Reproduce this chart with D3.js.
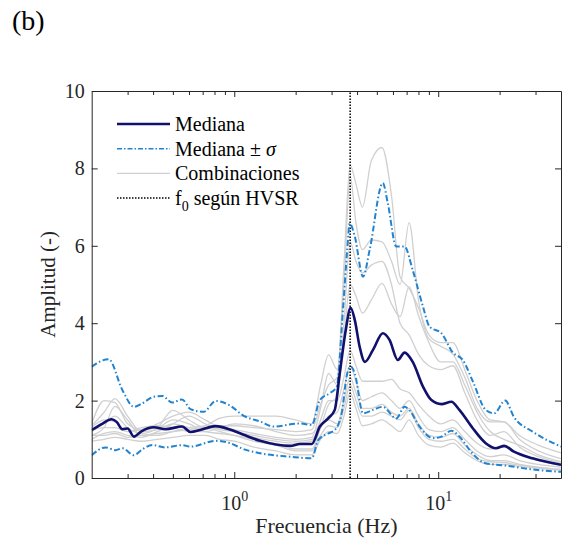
<!DOCTYPE html>
<html>
<head>
<meta charset="utf-8">
<script src="https://cdn.jsdelivr.net/npm/d3@7"></script>
<style>
  body { margin: 0; background: #fff; }
  svg { display: block; font-family: "Liberation Serif", "Times New Roman", serif; }
  .axis path, .axis line { stroke: #262626; stroke-width: 1; }
</style>
</head>
<body>
<svg id="chart" width="566" height="543"></svg>
<script>
// median curve
var medianFreq = [0.2, 0.225, 0.25, 0.265, 0.283, 0.3, 0.322, 0.349, 0.404, 0.46, 0.555, 0.61, 0.68, 0.81, 0.97, 1.12, 1.34, 1.88, 2.1, 2.4, 2.63, 2.89, 3.11, 3.29, 3.52, 3.72, 3.9, 4.12, 4.37, 4.79, 5.35, 5.77, 6.34, 6.84, 7.5, 8.42, 9.23, 10.37, 11.6, 12.7, 14.8, 17.1, 19.2, 21.1, 23.5, 29, 40]
var medianAmp = [1.24, 1.40, 1.52, 1.45, 1.26, 1.28, 1.07, 1.20, 1.31, 1.26, 1.33, 1.19, 1.24, 1.34, 1.24, 1.11, 0.96, 0.83, 0.88, 0.88, 1.33, 1.54, 1.76, 2.7, 3.82, 4.40, 4.08, 3.39, 3.0, 3.31, 3.74, 3.57, 3.05, 3.24, 3.0, 2.36, 2.02, 1.91, 1.97, 1.76, 1.28, 0.90, 0.77, 0.83, 0.68, 0.51, 0.34]

// median + sigma
var upperFreq = [0.2, 0.242, 0.283, 0.322, 0.354, 0.404, 0.444, 0.496, 0.555, 0.61, 0.708, 0.81, 0.94, 1.12, 1.34, 1.56, 2.1, 2.4, 2.63, 2.94, 3.18, 3.42, 3.58, 3.68, 3.9, 4.28, 4.61, 5.35, 5.66, 6.23, 6.84, 7.5, 8.42, 9.07, 10.37, 11.8, 13.2, 14.8, 17.1, 18.8, 21.3, 23.5, 29, 40]
var upperAmp = [2.88, 3.07, 2.27, 1.84, 1.93, 2.10, 2.12, 1.95, 2.03, 1.78, 1.71, 1.99, 1.89, 1.60, 1.46, 1.33, 1.41, 1.37, 2.02, 2.19, 2.36, 4.43, 5.89, 6.58, 6.24, 5.2, 5.89, 7.62, 7.10, 5.98, 5.98, 5.37, 4.43, 3.91, 3.74, 3.24, 3.05, 2.49, 1.76, 1.67, 2.0, 1.58, 1.20, 0.81]

// median - sigma
var lowerFreq = [0.2, 0.234, 0.262, 0.283, 0.322, 0.354, 0.397, 0.46, 0.555, 0.61, 0.81, 0.94, 1.12, 1.34, 1.88, 2.4, 2.58, 2.89, 3.11, 3.36, 3.58, 3.73, 3.9, 4.28, 4.79, 5.35, 6.23, 6.84, 7.2, 8.1, 9.4, 10.37, 11.6, 12.7, 14.8, 17.1, 21.5, 29, 40]
var lowerAmp = [0.59, 0.79, 0.72, 0.77, 0.59, 0.74, 0.85, 0.79, 0.85, 0.81, 0.96, 0.91, 0.74, 0.64, 0.55, 0.51, 0.98, 1.15, 1.24, 1.67, 2.7, 2.88, 2.7, 1.67, 1.76, 1.84, 1.54, 1.84, 1.76, 1.33, 1.03, 1.07, 1.22, 1.07, 0.62, 0.38, 0.32, 0.22, 0.16]

// individual combinations (grey)
var comboFreq = [0.2, 0.23, 0.26, 0.3, 0.35, 0.42, 0.5, 0.6, 0.72, 0.85, 1.0, 1.25, 1.6, 2.0, 2.4, 2.65, 2.9, 3.2, 3.45, 3.7, 3.95, 4.25, 4.7, 5.3, 5.9, 6.5, 7.2, 8.0, 9.0, 10.3, 11.8, 13.5, 15.5, 18, 21, 25, 31, 40]
var combo1 = [1.35, 1.7, 2.05, 1.6, 1.2, 1.25, 1.4, 1.3, 1.25, 1.35, 1.35, 1.3, 1.25, 1.2, 1.25, 1.9, 2.4, 2.6, 5.5, 8.09, 7.6, 7.0, 8.2, 8.54, 7.3, 5.2, 4.9, 4.4, 3.7, 3.5, 3.5, 2.8, 2.0, 1.5, 1.45, 1.1, 0.85, 0.65]
var combo2 = [1.1, 1.3, 1.85, 1.5, 1.1, 1.1, 1.2, 1.3, 1.35, 1.55, 1.6, 1.6, 1.6, 1.5, 1.4, 2.4, 3.18, 2.8, 5.0, 7.8, 6.6, 5.9, 6.15, 6.1, 5.6, 5.0, 6.6, 4.6, 3.6, 3.4, 3.2, 2.6, 1.8, 1.45, 1.45, 1.0, 0.7, 0.5]
var combo3 = [1.2, 1.4, 1.6, 1.3, 1.15, 1.3, 1.75, 1.5, 1.3, 1.3, 1.25, 1.15, 1.05, 1.0, 1.05, 1.8, 2.7, 2.4, 3.6, 5.0, 4.7, 4.26, 4.6, 5.03, 4.5, 4.17, 4.94, 4.2, 3.5, 3.0, 3.0, 2.4, 1.7, 1.2, 1.0, 0.85, 0.6, 0.42]
var combo4 = [1.3, 1.5, 1.45, 1.2, 1.25, 1.4, 1.6, 1.7, 1.5, 1.3, 1.2, 1.05, 0.95, 0.9, 0.95, 1.5, 2.0, 2.0, 2.6, 3.3, 2.9, 2.5, 2.5, 2.5, 2.55, 2.3, 2.2, 1.9, 1.6, 1.4, 1.5, 1.2, 0.9, 0.75, 0.8, 0.6, 0.45, 0.33]
var combo5 = [1.0, 1.15, 1.2, 1.1, 1.05, 1.2, 1.4, 1.6, 1.4, 1.25, 1.2, 1.1, 1.0, 0.95, 1.0, 1.3, 1.6, 1.7, 2.3, 2.9, 2.5, 2.0, 2.1, 2.2, 2.0, 1.8, 2.0, 1.6, 1.25, 1.2, 1.3, 1.0, 0.7, 0.55, 0.6, 0.45, 0.35, 0.28]
var combo6 = [1.25, 1.3, 1.3, 1.2, 1.3, 1.35, 1.3, 1.2, 1.2, 1.3, 1.4, 1.35, 1.2, 1.1, 1.15, 1.4, 1.5, 1.4, 2.0, 2.6, 2.2, 1.8, 1.8, 1.9, 1.7, 1.6, 1.8, 1.4, 1.1, 1.05, 1.15, 0.85, 0.6, 0.45, 0.45, 0.35, 0.28, 0.22]
var combo7 = [0.95, 1.0, 1.05, 1.0, 0.95, 1.0, 1.05, 1.1, 1.1, 1.0, 0.95, 0.8, 0.7, 0.6, 0.6, 1.0, 1.2, 1.15, 1.6, 2.2, 1.8, 1.35, 1.4, 1.5, 1.35, 1.2, 1.5, 1.1, 0.85, 0.8, 0.9, 0.65, 0.45, 0.35, 0.35, 0.3, 0.25, 0.2]
var combo8 = [1.4, 2.0, 1.95, 1.4, 1.25, 1.3, 1.5, 1.4, 1.2, 1.15, 1.1, 1.0, 0.85, 0.75, 0.75, 1.3, 1.9, 2.1, 4.0, 6.1, 5.6, 5.3, 5.5, 5.6, 5.0, 4.0, 3.7, 3.2, 2.9, 2.8, 2.9, 2.2, 1.5, 1.1, 1.2, 0.8, 0.55, 0.38]
var combo9 = [1.1, 1.1, 1.15, 1.05, 1.1, 1.15, 1.2, 1.25, 1.3, 1.2, 1.1, 0.95, 0.85, 0.7, 0.7, 1.1, 1.35, 1.3, 1.8, 2.4, 2.0, 1.6, 1.6, 1.7, 1.6, 1.5, 1.75, 1.3, 1.0, 0.95, 1.0, 0.75, 0.5, 0.42, 0.4, 0.33, 0.27, 0.22]
var combos = [combo1, combo2, combo3, combo4, combo5, combo6, combo7, combo8, combo9]

var f0 = 3.7

var yTicks = [0, 2, 4, 6, 8, 10]
var xMajor = [1, 10]
var xMinor = [0.3, 0.4, 0.5, 0.6, 0.7, 0.8, 0.9, 2, 3, 4, 5, 6, 7, 8, 9, 20, 30]

var legendLabels = ['Mediana', 'Mediana ± σ', 'Combinaciones', 'f0 según HVSR']

// set the dimensions and margins of the graph
var margin = { top: 91, right: 5, bottom: 65, left: 91.7 }
var width = 566
var height = 543

var colMedian = '#10106e'
var colSigma = '#2183d0'
var colGrey = '#d0d0d0'

var svg = d3.select('#chart')

var xScale = d3.scaleLog()
  .domain([0.2, 40])
  .range([margin.left, width - margin.right])

var yScale = d3.scaleLinear()
  .domain([0, 10])
  .range([height - margin.bottom, margin.top])

svg.append('clipPath').attr('id', 'clip')
  .append('rect')
  .attr('x', margin.left).attr('y', margin.top)
  .attr('width', width - margin.right - margin.left)
  .attr('height', height - margin.bottom - margin.top)

function makeLine(freqs) {
  return d3.line()
    .x((d, i) => xScale(freqs[i]))
    .y(d => yScale(d))
    .curve(d3.curveMonotoneX)
}

var plot = svg.append('g').attr('clip-path', 'url(#clip)')

// grey combinations
plot.selectAll('.combo')
  .data(combos)
  .enter().append('path')
  .attr('class', 'combo')
  .attr('d', makeLine(comboFreq))
  .attr('fill', 'none')
  .attr('stroke', colGrey)
  .attr('stroke-width', 1.3)

// f0 line
plot.append('line')
  .attr('x1', xScale(f0)).attr('x2', xScale(f0))
  .attr('y1', yScale(0)).attr('y2', yScale(10))
  .attr('stroke', '#000')
  .attr('stroke-width', 1.5)
  .attr('stroke-dasharray', '1.5,1.5')

// sigma curves
plot.append('path')
  .attr('d', makeLine(upperFreq)(upperAmp))
  .attr('fill', 'none').attr('stroke', colSigma)
  .attr('stroke-width', 2).attr('stroke-dasharray', '6,2.5,1.5,2.5')
plot.append('path')
  .attr('d', makeLine(lowerFreq)(lowerAmp))
  .attr('fill', 'none').attr('stroke', colSigma)
  .attr('stroke-width', 2).attr('stroke-dasharray', '6,2.5,1.5,2.5')

// median
plot.append('path')
  .attr('d', makeLine(medianFreq)(medianAmp))
  .attr('fill', 'none').attr('stroke', colMedian)
  .attr('stroke-width', 2.6)

// axes (ticks inward)
var axBottom = svg.append('g').attr('class', 'axis')
  .attr('transform', 'translate(0,' + yScale(0) + ')')
axBottom.call(d3.axisBottom(xScale).tickValues(xMajor).tickSize(-6).tickSizeOuter(0).tickFormat(''))
axBottom.append('g').call(d3.axisBottom(xScale).tickValues(xMinor).tickSize(-4).tickFormat(''))
  .select('.domain').remove()

var axTop = svg.append('g').attr('class', 'axis')
  .attr('transform', 'translate(0,' + yScale(10) + ')')
axTop.call(d3.axisTop(xScale).tickValues(xMajor).tickSize(-6).tickSizeOuter(0).tickFormat(''))
axTop.append('g').call(d3.axisTop(xScale).tickValues(xMinor).tickSize(-4).tickFormat(''))
  .select('.domain').remove()

var axLeft = svg.append('g').attr('class', 'axis')
  .attr('transform', 'translate(' + xScale(0.2) + ',0)')
axLeft.call(d3.axisLeft(yScale).tickValues(yTicks).tickSize(-6).tickSizeOuter(0).tickPadding(7))

var axRight = svg.append('g').attr('class', 'axis')
  .attr('transform', 'translate(' + xScale(40) + ',0)')
axRight.call(d3.axisRight(yScale).tickValues(yTicks).tickSize(-6).tickSizeOuter(0).tickFormat(''))

axLeft.selectAll('text')
  .attr('font-family', '"Liberation Serif", serif')
  .attr('font-size', 20)
  .attr('fill', '#262626')

// x labels as 10^n
axBottom.selectAll('.tick').filter(d => xMajor.indexOf(d) >= 0)
  .append('text')
  .attr('y', 32)
  .attr('text-anchor', 'middle')
  .attr('fill', '#262626')
  .attr('font-family', '"Liberation Serif", serif')
  .attr('font-size', 20)
  .each(function(d) {
    var t = d3.select(this)
    t.append('tspan').text('10')
    t.append('tspan').attr('dy', -9).attr('font-size', 14).text(Math.round(Math.log10(d)))
  })

// axis titles
svg.append('text')
  .attr('x', (xScale.range()[0] + xScale.range()[1]) / 2)
  .attr('y', 533)
  .attr('text-anchor', 'middle')
  .attr('font-size', 22)
  .attr('fill', '#262626')
  .text('Frecuencia (Hz)')

svg.append('text')
  .attr('transform', 'translate(55,' + (yScale(5)) + ') rotate(-90)')
  .attr('text-anchor', 'middle')
  .attr('font-size', 21)
  .attr('fill', '#262626')
  .text('Amplitud (-)')

svg.append('text')
  .attr('x', 12).attr('y', 30)
  .attr('font-size', 28)
  .attr('fill', '#000')
  .text('(b)')

// legend
var legendStyles = [
  { stroke: colMedian, width: 2.6, dash: null },
  { stroke: colSigma, width: 1.6, dash: '5,2,1.5,2' },
  { stroke: colGrey, width: 1.3, dash: null },
  { stroke: '#000', width: 1.5, dash: '1.5,1.5' }
]
var legend = svg.append('g').attr('transform', 'translate(117,124)')
legendLabels.forEach(function(lab, i) {
  var row = legend.append('g').attr('transform', 'translate(0,' + (i * 24.7) + ')')
  row.append('line')
    .attr('x1', 0).attr('x2', 53)
    .attr('stroke', legendStyles[i].stroke)
    .attr('stroke-width', legendStyles[i].width)
    .attr('stroke-dasharray', legendStyles[i].dash)
  var txt = row.append('text')
    .attr('x', 58).attr('y', 7)
    .attr('font-size', 20)
    .attr('fill', '#000')
  if (i === 1) {
    txt.append('tspan').text('Mediana ± ')
    txt.append('tspan').attr('font-style', 'italic').text('σ')
  } else if (i === 3) {
    txt.append('tspan').text('f')
    txt.append('tspan').attr('font-size', 14).attr('dy', 6).text('0')
    txt.append('tspan').attr('dy', -6).text(' según HVSR')
  } else {
    txt.text(lab)
  }
})
</script>
</body>
</html>
